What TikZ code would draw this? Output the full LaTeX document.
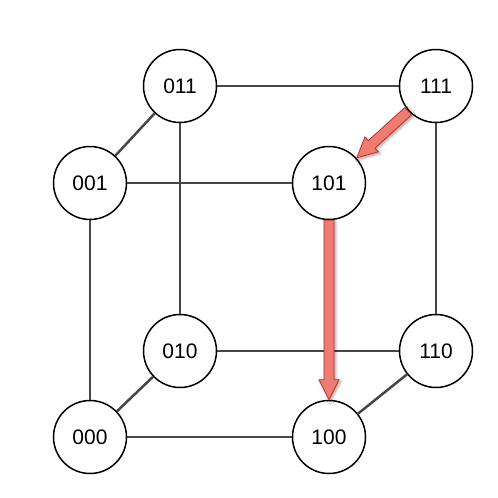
\documentclass[tikz,border=0pt]{standalone}
\usepackage{fontspec}
\setmainfont{Liberation Sans}
\usetikzlibrary{calc,shadows.blur}
\definecolor{edgegrey}{RGB}{70,70,70}
\definecolor{arrowfill}{RGB}{238,124,114}
\definecolor{arrowline}{RGB}{200,45,30}
\tikzset{
  vertex/.style={circle,draw=black,line width=1.5pt,fill=white,minimum size=73pt,inner sep=0pt,font=\fontsize{21}{21}\selectfont},
  cubeedge/.style={draw=edgegrey,line width=2.5pt},
  redarrow/.style={fill=arrowfill,draw=arrowline,line width=0.8pt,line join=miter,
    blur shadow={shadow xshift=1.5pt,shadow yshift=-1.5pt,shadow blur radius=3pt,shadow opacity=40}}
}
\newcommand\myblockarrow[2]{%
  \coordinate (hb) at ($(#2)!20pt!(#1)$);
  \path[redarrow] ($(#1)!5pt!90:(#2)$) -- ($(hb)!5pt!-90:(#1)$) -- ($(hb)!10pt!-90:(#1)$) -- (#2)
    -- ($(hb)!10pt!90:(#1)$) -- ($(hb)!5pt!90:(#1)$) -- ($(#1)!5pt!-90:(#2)$) -- cycle;
}
\begin{document}
\begin{tikzpicture}[x=1pt,y=-1pt]
\useasboundingbox (0,0) rectangle (498,498);
\node[vertex] (011) at (180,86) {011};
\node[vertex] (111) at (436,86) {111};
\node[vertex] (001) at (90,183) {001};
\node[vertex] (101) at (329,183) {101};
\node[vertex] (010) at (180,351) {010};
\node[vertex] (110) at (436,351) {110};
\node[vertex] (000) at (90,437) {000};
\node[vertex] (100) at (329,437) {100};
\path[cubeedge] (011) -- (111);
\path[cubeedge] (011) -- (001);
\path[cubeedge] (011) -- (010);
\path[cubeedge] (001) -- (101);
\path[cubeedge] (001) -- (000);
\path[cubeedge] (111) -- (110);
\path[cubeedge] (010) -- (110);
\path[cubeedge] (010) -- (000);
\path[cubeedge] (110) -- (100);
\path[cubeedge] (000) -- (100);
\coordinate (a1) at ($(111)!37.5pt!(101)$);
\coordinate (b1) at ($(101)!37.5pt!(111)$);
\coordinate (a2) at (101.south);
\coordinate (b2) at (100.north);
\myblockarrow{a1}{b1}
\myblockarrow{a2}{b2}
\end{tikzpicture}
\end{document}
